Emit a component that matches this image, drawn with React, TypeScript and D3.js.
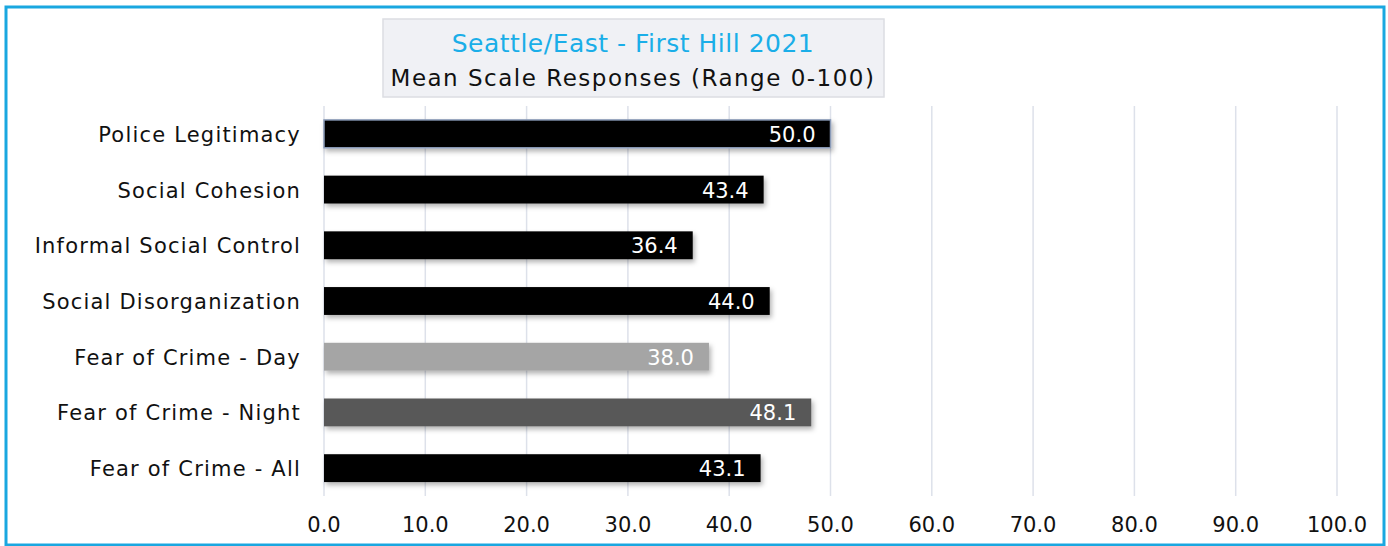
import React from "react";
import * as d3 from "d3";

const categories = [
  "Police Legitimacy",
  "Social Cohesion",
  "Informal Social Control",
  "Social Disorganization",
  "Fear of Crime - Day",
  "Fear of Crime - Night",
  "Fear of Crime - All",
];
const values = [50.0, 43.4, 36.4, 44.0, 38.0, 48.1, 43.1];
const barColors = ["#000000", "#000000", "#000000", "#000000", "#a5a5a5", "#595959", "#000000"];
const ticks = [0, 10, 20, 30, 40, 50, 60, 70, 80, 90, 100];
const title1 = "Seattle/East - First Hill 2021";
const title2 = "Mean Scale Responses (Range 0-100)";

const W = 1388;
const H = 546;
const FONT = "'DejaVu Sans', sans-serif";

export default function App() {
  const x = d3.scaleLinear().domain([0, 100]).range([324, 1337]);
  const y = d3.scaleBand<string>().domain(categories).range([106, 496]).paddingInner(0.5).paddingOuter(0.25);

  return (
    <svg width={W} height={H} style={{ position: "absolute", left: 0, top: 0, background: "#fff" }}>
      <defs>
        <filter id="sh" x="-5%" y="-30%" width="110%" height="180%">
          <feDropShadow dx="2" dy="3" stdDeviation="2.5" floodColor="#000" floodOpacity="0.3" />
        </filter>
      </defs>
      <rect x={0} y={0} width={W} height={H} fill="#fff" />
      <rect x={6} y={7} width={1378} height={538} fill="none" stroke="#1aa7e0" strokeWidth={3} />
      {ticks.map((t) => (
        <line key={t} x1={x(t)} x2={x(t)} y1={106} y2={496} stroke="#dde1ea" strokeWidth={1.5} />
      ))}
      <rect x={383} y={19} width={501} height={78} fill="#f0f1f5" stroke="#dcdde2" strokeWidth={1.5} />
      <text x={633} y={52} textAnchor="middle" fontFamily={FONT} fontSize={25} letterSpacing={0.5} fill="#1aaee8">{title1}</text>
      <text x={633} y={86} textAnchor="middle" fontFamily={FONT} fontSize={23} letterSpacing={1.5} fill="#111">{title2}</text>
      {categories.map((c, i) => {
        const y0 = y(c)!;
        const bw = y.bandwidth();
        return (
          <g key={c}>
            <rect x={x(0)} y={y0} width={x(values[i]) - x(0)} height={bw} fill={barColors[i]} filter="url(#sh)"
              stroke={i === 0 ? "#8a9bb8" : "none"} strokeWidth={i === 0 ? 1.5 : 0} />
            <text x={x(values[i]) - 15} y={y0 + bw / 2 + 8} textAnchor="end" fontFamily={FONT} fontSize={21} fill="#fff">
              {values[i].toFixed(1)}
            </text>
            <text x={301} y={y0 + bw / 2 + 8} textAnchor="end" fontFamily={FONT} fontSize={21} letterSpacing={1.2} fill="#111">
              {c}
            </text>
          </g>
        );
      })}
      {ticks.map((t) => (
        <text key={t} x={x(t)} y={532} textAnchor="middle" fontFamily={FONT} fontSize={21} fill="#111">
          {t.toFixed(1)}
        </text>
      ))}
    </svg>
  );
}
